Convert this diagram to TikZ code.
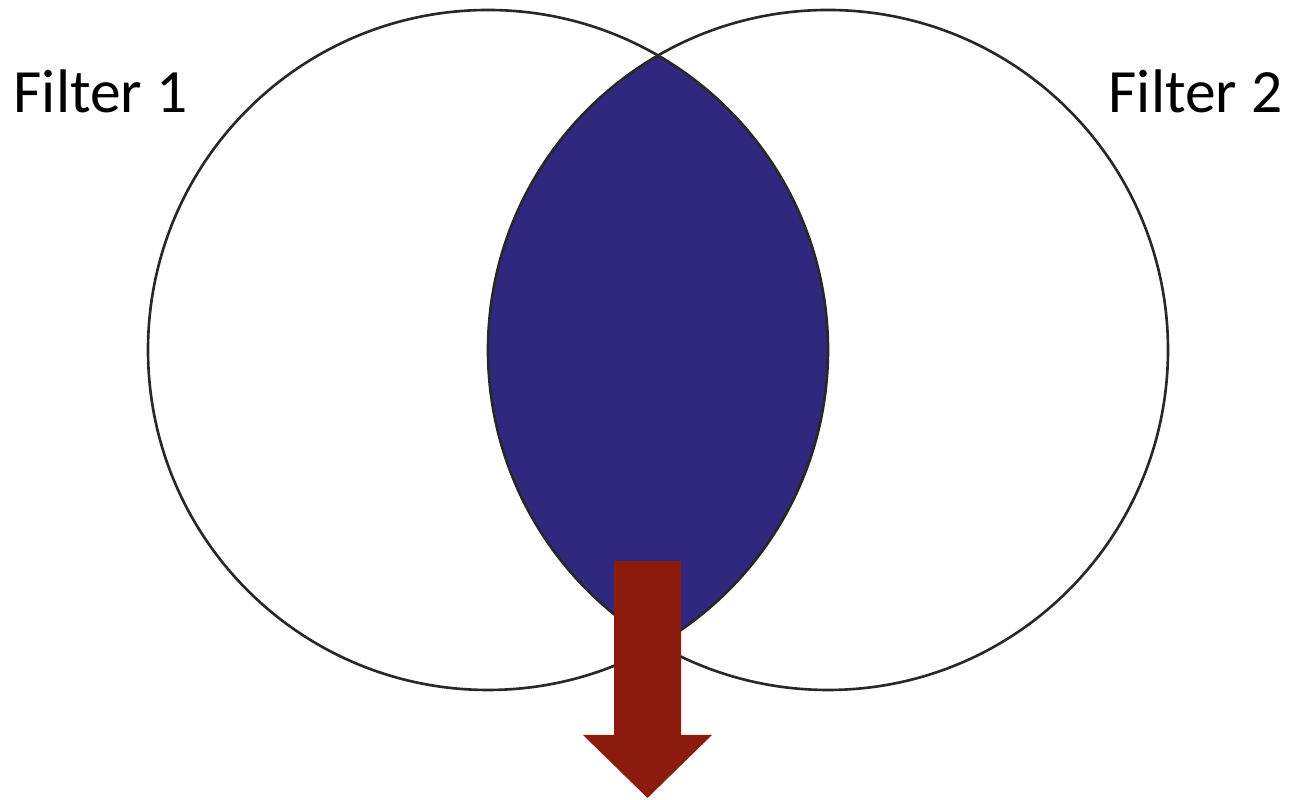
\documentclass[tikz,border=0pt]{standalone}
\usepackage{fontspec}
\setmainfont{Carlito}
\usepackage{tikz}
\usetikzlibrary{positioning,calc}
\definecolor{lensblue}{RGB}{48,39,127}
\definecolor{arrred}{RGB}{139,27,12}
\definecolor{ringgray}{RGB}{40,40,40}

\begin{document}
\begin{tikzpicture}[
  ring/.style={circle, draw=ringgray, line width=0.75pt, minimum size=6.8cm, inner sep=0pt},
  flbl/.style={font=\fontsize{17.5}{20}\selectfont, text=black, inner sep=0pt}
]
\useasboundingbox (0,0) rectangle (12.89,8.00);

% Overlap of both filters
\begin{scope}
  \clip (4.88,4.50) circle (3.40);
  \fill[lensblue] (8.28,4.50) circle (3.40);
\end{scope}

% Filter circles
\node[ring] (filterA) at (4.88,4.50) {};
\node[ring] (filterB) at (8.28,4.50) {};

% Labels
\node[flbl, anchor=base west] (lblA) at (0.13,6.87) {Filter 1};
\node[flbl, anchor=base east] (lblB) at (12.83,6.87) {Filter 2};

% Output arrow
\fill[arrred] (6.14,2.39) -- (6.81,2.39) -- (6.81,0.65) -- (7.12,0.65)
  -- (6.475,0.02) -- (5.83,0.65) -- (6.14,0.65) -- cycle;
\end{tikzpicture}
\end{document}
